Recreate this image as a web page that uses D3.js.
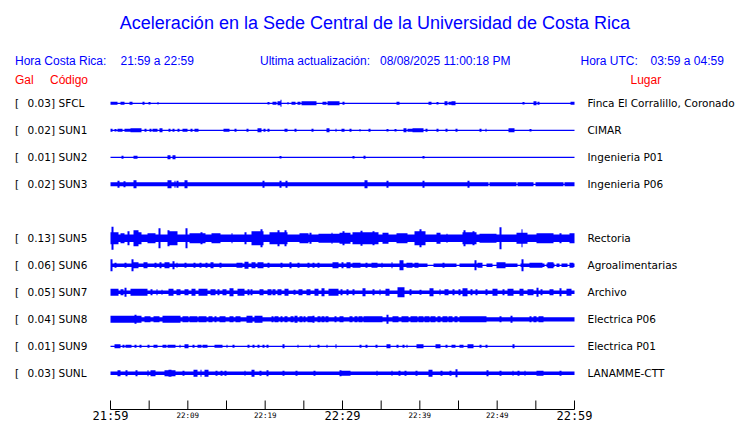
<!DOCTYPE html>
<html><head><meta charset="utf-8">
<script src="https://cdn.jsdelivr.net/npm/d3@7"></script>
<style>
html,body{margin:0;padding:0;background:#fff;}
svg{display:block;}
</style></head>
<body><svg id="c" width="740" height="423"></svg>
<script>
// ---------- DATA ----------
const title = "Aceleración en la Sede Central de la Universidad de Costa Rica";
const horaCR = "21:59 a 22:59";
const horaUTC = "03:59 a 04:59";
const ultima = "08/08/2025 11:00:18 PM";

const codes   = ["SFCL","SUN1","SUN2","SUN3","SUN5","SUN6","SUN7","SUN8","SUN9","SUNL"];
const slots   = [0,1,2,3,5,6,7,8,9,10];
const gal     = [0.03,0.02,0.01,0.02,0.13,0.06,0.05,0.04,0.01,0.03];
const places  = ["Finca El Corralillo, Coronado","CIMAR","Ingenieria P01","Ingenieria P06",
                 "Rectoria","Agroalimentarias","Archivo","Electrica P06","Electrica P01","LANAMME-CTT"];
// base (background) amplitude of each trace, relative units
const baseAmp = [0.6,0.6,0.6,2.0,3.8,1.8,1.8,2.1,0.6,1.8];

// minutes after 21:59
const tickMinutes = [0,5,10,15,20,25,30,35,40,45,50,55,60];
const majorLabels = [[0,"21:59"],[30,"22:29"],[60,"22:59"]];
const minorLabels = [[10,"22:09"],[20,"22:19"],[40,"22:39"],[50,"22:49"]];

// bursts: [start min, end min, amplitude]
const evSFCL = [[0.1,0.8,1.5],[1.4,1.8,1.5],[2.5,2.8,1.5],[4.2,4.3,1.5],[5.0,5.1,1.2],[6.1,6.2,1.2],
 [20.4,20.5,1.2],[21.0,21.4,1.5],[21.6,21.9,2],[22.0,22.1,3.5],[22.9,23.0,1.2],[23.5,23.9,1.5],
 [24.2,24.5,1.5],[24.8,26.6,2],[27.5,27.9,1.5],[28.1,29.5,2],[30.1,30.2,1.5],[37.1,37.3,1.5],
 [41.2,41.5,1.5],[42.2,42.3,1.2],[43.2,43.5,2],[43.8,44.0,1.5],[44.2,44.6,2],[53.4,53.5,1.2],
 [54.7,55.0,2],[55.3,55.4,1.5],[59.5,60,1.5]];
const evSUN1 = [[0,0.2,1.5],[0.55,0.65,1.2],[1.0,1.45,1.5],[1.9,2.5,1.5],[2.65,4.0,2],[4.45,4.55,1.5],
 [5.1,5.2,1.5],[5.5,6.0,1.5],[6.4,6.7,2],[7.5,7.7,1.5],[8.1,8.2,1.5],[8.7,8.8,1.5],[9.4,9.85,1.5],
 [10.4,10.5,1.5],[10.9,11.35,1.5],[14.7,15.3,1.5],[16.1,16.2,1.5],[17.6,17.8,1.5],[19.1,19.5,2],
 [19.9,20.0,1.5],[20.4,20.5,1.5],[22.5,22.8,1.5],[23.85,23.95,1.5],[26.1,26.2,1.5],[27.95,28.2,2],
 [29.1,29.2,1.5],[29.9,30.2,1.5],[30.95,31.05,1.5],[32.2,32.3,1.2],[33.45,33.55,1.5],[35.8,35.9,1.2],
 [36.8,36.9,1.2],[37.95,38.2,2],[38.5,38.95,1.5],[39.15,40.45,2],[40.8,40.9,1.5],[42.2,42.3,1.5],
 [43.4,43.5,1.5],[44.7,44.8,1.5],[47.8,47.9,1.5],[48.5,48.6,1.5],[51.55,52.2,2],[54.25,54.35,1.2]];
const evSUN2 = [[1.5,1.6,1.5],[3.1,3.4,1.5],[7.4,7.7,2],[8.1,8.4,2],[21.9,22.0,1.2],[31.4,31.5,1.2],
 [32.8,32.9,1.5],[40.45,40.55,1.2]];
const evSUN3 = [[1.0,1.1,3.5],[1.8,1.9,3],[3.1,3.3,4],[7.45,7.8,4],[8.3,8.4,3.5],[8.6,8.7,3.5],
 [9.6,9.9,4],[19.75,19.85,3.5],[21.9,22.0,3.5],[22.7,22.8,3.5],[32.9,33.15,4],[35.8,35.9,3.5],
 [40.45,40.55,3.5],[46.25,46.35,3.5]];
const evSUN5 = [[0,1.0,6],[0.2,0.3,11.5],[1.35,1.8,5],[2.3,2.4,7],[3.1,3.6,8],[3.6,3.95,6],[4.9,5.75,5],
 [6.3,6.4,10],[7.4,8.55,7],[7.45,7.55,8],[9.75,9.85,10],[10.3,12.2,5],[11.7,11.8,6],[13.1,14.15,5],
 [15.65,15.75,5],[17.4,17.5,6],[18.25,19.75,7],[19.45,19.55,9],[20.6,22.8,6],[21.7,21.8,8],
 [22.55,22.65,8],[24.5,25.6,5],[25.85,25.95,5.5],[26.9,30.3,4.5],[28.6,28.7,5.5],[29.7,31.0,5.5],
 [30.1,30.2,7],[31.4,34.65,6],[32.45,32.55,7.5],[33.95,34.05,7],[35.3,35.9,5.5],[37.0,38.3,5],
 [39.4,40.65,7],[40.0,40.1,9],[42.2,42.6,5.5],[43.45,43.55,4.5],[45.6,47.25,6],[45.75,45.85,8],
 [46.9,47.0,7],[47.8,49.9,4.5],[50.4,50.5,11],[52.5,53.8,5.5],[53.15,53.25,9],[55.1,57.25,5],
 [58.1,58.2,5],[59.4,60,5]];
const evSUN6 = [[0,0.2,6],[0.55,0.65,2.5],[1.85,1.95,2.5],[2.8,2.9,6],[2.95,3.6,3],[4.35,4.7,3],
 [5.75,5.85,2.5],[6.4,6.5,3],[7.05,7.5,3],[8.1,8.2,4],[8.55,8.65,2.5],[9.6,9.7,2.5],[10.8,10.9,2.5],
 [11.55,11.65,2.5],[12.4,12.5,2.5],[13.05,13.3,3],[14.15,14.25,2.5],[16.3,16.95,2.5],[17.4,17.75,3.5],
 [18.25,18.7,3],[19.1,19.75,3],[20.4,20.5,2.5],[22.1,22.2,2.5],[23.2,23.3,3],[24.25,24.35,2.5],
 [25.55,25.65,2.5],[26.2,26.3,2.5],[26.85,26.95,2.5],[28.8,29.45,3],[29.95,30.05,3],[30.55,30.95,3],
 [31.4,32.25,2.5],[33.1,33.2,2.5],[33.8,34.4,2.5],[35.05,35.15,2.5],[36.35,36.45,3],[37.45,37.85,5],
 [38.3,38.95,2.5],[39.4,39.8,2.5],[43.0,43.1,2.5],[47.1,47.2,5],[47.55,48.0,2.5],[49.95,51.0,3],
 [53.25,53.35,6],[54.25,55.75,2.5],[56.6,57.25,3],[59.4,59.85,2.5]];
const evSUN7 = [[0.05,1.0,3.5],[1.35,1.65,3],[1.85,1.95,4.5],[2.65,3.4,3.5],[3.6,4.7,3.5],[5.3,5.4,3],
 [5.95,6.05,3],[6.6,6.7,2.5],[7.55,8.1,3.5],[8.55,9.0,3],[9.6,10.0,3],[10.5,10.9,3.5],[11.5,12.45,3.5],
 [13.05,13.5,3],[13.9,14.0,3],[14.6,14.9,3],[15.45,15.9,4],[16.45,17.2,3.5],[17.8,17.9,3],[18.2,18.3,3],
 [19.3,19.75,3],[20.4,20.7,3],[21.0,21.3,3],[21.6,22.1,3],[22.55,22.9,3.5],[23.75,23.85,2.5],
 [24.4,24.7,3],[25.35,25.8,3],[26.45,26.85,3.5],[27.3,27.65,4],[28.25,29.45,3.5],[29.85,29.95,3],
 [30.55,30.75,3],[31.35,31.45,3],[32.6,32.9,4],[33.95,34.05,3],[34.8,34.9,3],[35.6,36.05,3.5],
 [37.2,37.95,5],[38.7,38.8,3],[40.0,40.1,2.5],[41.3,41.75,4],[42.55,42.65,3],[43.25,43.7,3],
 [44.3,44.4,3],[45.1,45.2,3],[45.6,46.05,4],[46.65,46.75,3],[47.3,47.4,3],[48.6,48.7,3],
 [49.5,49.95,3.5],[50.75,50.85,3],[51.45,52.1,3.5],[52.95,53.3,3.5],[54.0,54.65,3],[55.15,55.25,4.5],
 [55.7,55.8,3],[56.8,57.25,3],[58.1,58.2,4],[59.0,59.6,3.5]];
const evSUN8 = [[0,4.0,3.5],[3.15,3.25,4.5],[4.4,5.1,3],[5.65,6.25,3],[6.85,9.0,3.5],[9.4,10.0,3],
 [10.3,11.2,3],[11.5,12.4,3],[12.7,13.1,3],[13.5,13.6,3],[14.15,14.8,3],[15.45,15.8,3],[16.2,16.75,3],
 [17.6,18.25,3.5],[18.7,19.55,3.5],[20.85,21.0,3],[21.3,21.7,3],[22.1,22.2,3],[22.5,22.8,3],
 [23.4,23.6,3],[23.9,24.1,3.5],[24.5,24.7,3],[25.0,25.2,3],[25.5,26.0,3],[26.2,26.3,3.5],
 [26.85,27.1,3],[27.4,27.6,3],[27.9,28.15,3],[29.0,29.1,3],[29.65,30.1,3],[30.95,31.2,3],
 [31.6,31.9,3],[32.1,32.5,3],[32.8,33.4,3],[33.6,34.3,3],[34.5,35.05,3],[35.8,35.9,4.5],
 [36.55,37.2,3],[37.65,38.5,3],[38.8,39.6,3],[39.9,40.45,3],[40.65,41.2,3],[41.5,42.0,3],
 [42.3,42.6,3],[43.0,43.5,3],[43.8,44.2,3],[44.5,44.75,3],[45.2,48.6,3],[50.35,50.45,3],
 [51.85,51.95,3.5],[54.25,54.4,3],[54.8,55.0,3],[55.4,55.95,3]];
const evSUN9 = [[0.55,1.2,2],[1.65,1.75,1.5],[1.95,2.65,1.5],[3.2,3.3,1.5],[3.8,3.9,1.5],[4.85,4.95,1.5],
 [5.65,6.0,1.5],[6.85,7.2,1.5],[7.45,7.8,1.5],[8.0,8.35,1.5],[8.95,9.05,1.5],[9.6,10.0,2],
 [10.7,10.8,1.5],[11.35,11.7,1.5],[11.95,12.45,1.5],[13.5,14.4,1.5],[15.0,15.1,1.5],[15.85,15.95,1.5],
 [17.8,17.9,1.5],[18.45,18.55,1.5],[19.1,19.2,1.5],[19.75,19.85,1.5],[20.2,20.4,1.5],[22.3,22.4,2],
 [24.2,24.3,1.5],[25.75,25.85,1.5],[26.85,26.95,1.5],[27.95,28.05,1.5],[29.1,29.2,2],[32.25,32.35,1.5],
 [33.1,33.2,1.5],[34.3,34.4,1.5],[35.7,36.15,2],[37.05,37.15,1.5],[37.85,37.95,1.5],[38.3,38.4,1.5],
 [39.6,40.45,2],[42.1,42.6,2],[43.35,43.45,1.5],[44.1,44.55,1.5],[45.25,45.6,1.5],[46.25,46.9,2],
 [47.75,47.85,1.5],[48.6,48.7,1.5],[52.05,52.15,2]];
const evSUNL = [[1.0,1.25,3],[2.05,2.15,3],[3.35,3.45,3],[4.8,4.9,3],[5.3,5.75,3],[7.05,7.4,3],
 [7.6,7.85,3.5],[8.0,8.35,3],[9.4,9.5,2.5],[10.85,11.15,3.5],[11.65,11.75,3.5],[12.2,12.65,3.5],
 [13.7,13.8,2.5],[14.35,14.45,2.5],[14.85,14.95,2.5],[17.35,17.45,2.5],[18.25,18.5,3.5],[19.3,19.4,2.5],
 [20.3,20.4,3],[22.3,22.4,2.5],[24.05,24.15,2.5],[26.3,26.4,2.5],[29.65,29.75,3],[29.7,30.95,2.5],
 [34.4,34.5,2.5],[36.35,36.45,2.5],[37.3,37.4,2.5],[38.05,38.15,2.5],[39.55,39.65,2.5],[41.2,41.55,3.5],
 [42.8,42.9,2.5],[43.9,44.0,2.5],[44.65,44.75,4],[48.7,48.8,3],[50.35,50.45,2.5],[52.0,52.1,2.5],
 [52.7,52.8,2.5],[53.55,53.65,2.5],[55.1,55.95,2.5],[58.1,58.2,2.5]];
// quiet stretches where the trace thins out: [start min, end min]
const gapSUN3 = [[48.9,49.0],[52.5,52.6],[54.8,54.9],[58.6,58.7]];
const gapSUN6 = [[41.1,41.75],[44.75,45.1],[48.2,48.6],[49.4,49.9],[52.75,52.95],[56.15,56.3],
 [57.45,57.6],[58.1,58.25],[59.15,59.3]];

const events = [evSFCL,evSUN1,evSUN2,evSUN3,evSUN5,evSUN6,evSUN7,evSUN8,evSUN9,evSUNL];
const gaps   = [[],[],[],gapSUN3,[],gapSUN6,[],[],[],[]];

// ---------- DRAW ----------
const svg = d3.select("#c");
const BLUE = "#0000ff", RED = "#ff0000";
const sans = "'Liberation Sans', Arial, Helvetica, sans-serif";
const dv = "'DejaVu Sans', sans-serif";
const mono = "'DejaVu Sans Mono', monospace";

const x = d3.scaleLinear().domain([0,60]).range([110.5,574.5]);
const y = d3.scaleLinear().domain([0,10]).range([103.3,373.3]);
const amp = d3.scaleLinear().domain([0,12]).range([0,12]);
const thinAmp = 0.6;

svg.append("text").attr("x",375).attr("y",29).attr("text-anchor","middle")
  .attr("font-family",sans).attr("font-size",18).attr("fill",BLUE).text(title);

const hdr = (tx,ty,s,col,fs) => svg.append("text").attr("x",tx).attr("y",ty)
  .attr("font-family",sans).attr("font-size",fs||12).attr("fill",col).text(s);
hdr(15,64.5,"Hora Costa Rica:",BLUE);
hdr(120.5,64.5,horaCR,BLUE);
hdr(260,64.5,"Ultima actualización:",BLUE);
hdr(380,64.5,ultima,BLUE);
hdr(580.5,64.5,"Hora UTC:",BLUE);
hdr(650.5,64.5,horaUTC,BLUE);
hdr(15,84.3,"Gal",RED);
hdr(50,84.3,"Código",RED);
hdr(630.5,84.3,"Lugar",RED);

const area = d3.area().x(d=>d.x).y0(d=>d.y0).y1(d=>d.y1).curve(d3.curveStepAfter);

codes.forEach((code,i)=>{
  const cy = y(slots[i]);
  const lab = svg.append("g").attr("font-family",dv).attr("font-size",10.5).attr("fill","#000");
  lab.append("text").attr("x",15).attr("y",cy+4).text("[");
  lab.append("text").attr("x",27.5).attr("y",cy+4).text(gal[i].toFixed(2)+"]");
  lab.append("text").attr("x",58.5).attr("y",cy+4).text(code);
  lab.append("text").attr("x",587.5).attr("y",cy+4).text(places[i]);

  const [px0,px1] = x.range();
  const pts = [];
  for (let px = px0; px < px1; px += 1) {
    const t0 = x.invert(px), t1 = x.invert(px+1);
    let a = baseAmp[i];
    gaps[i].forEach(g=>{ if (g[0] < t1 && g[1] >= t0) a = Math.min(a, thinAmp); });
    events[i].forEach(e=>{ if (e[0] < t1 && e[1] >= t0) a = Math.max(a, e[2]); });
    pts.push({x:px, y0:cy-amp(a), y1:cy+amp(a)});
  }
  const last = pts[pts.length-1];
  pts.push({x:px1, y0:last.y0, y1:last.y1});
  svg.append("path").attr("d",area(pts)).attr("fill",BLUE).attr("stroke","none");
});

// time axis
const axY = 409.5;
svg.append("line").attr("x1",x(0)).attr("x2",x(60)).attr("y1",axY).attr("y2",axY)
  .attr("stroke","#000").attr("stroke-width",1);
svg.selectAll("line.tk").data(tickMinutes).enter().append("line").attr("class","tk")
  .attr("x1",d=>x(d)).attr("x2",d=>x(d)).attr("y1",400.5).attr("y2",axY)
  .attr("stroke","#000").attr("stroke-width",1);
svg.selectAll("text.maj").data(majorLabels).enter().append("text").attr("class","maj")
  .attr("x",d=>x(d[0])).attr("y",419.5).attr("text-anchor","middle")
  .attr("font-family",mono).attr("font-size",12).attr("fill","#000").text(d=>d[1]);
svg.selectAll("text.min").data(minorLabels).enter().append("text").attr("class","min")
  .attr("x",d=>x(d[0])).attr("y",417.5).attr("text-anchor","middle")
  .attr("font-family",mono).attr("font-size",7.5).attr("fill","#000").text(d=>d[1]);
</script></body></html>
